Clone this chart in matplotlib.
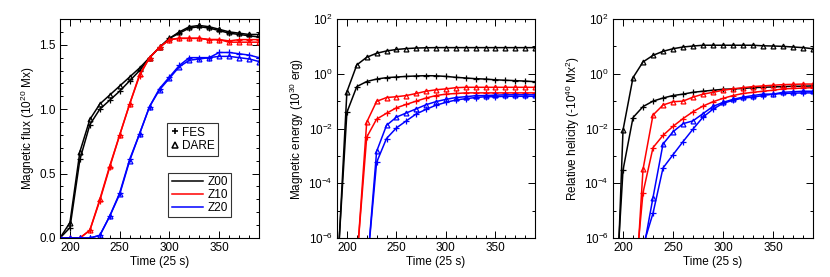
import numpy as np
import matplotlib
matplotlib.use("Agg")
import matplotlib.pyplot as plt
from matplotlib.ticker import MultipleLocator, FixedLocator, FuncFormatter, NullFormatter
from matplotlib.lines import Line2D

plt.rcParams['font.family'] = ['Liberation Sans', 'DejaVu Sans']
plt.rcParams['mathtext.fontset'] = 'custom'
plt.rcParams['mathtext.rm'] = 'Liberation Sans'

t = np.arange(190, 391, 10)

# magnetic flux (1e20 Mx)
flux_z00_fes = [0, 0.08, 0.61, 0.88, 1.00, 1.07, 1.14, 1.22, 1.30, 1.40, 1.48, 1.55, 1.59, 1.63, 1.64,
                1.63, 1.61, 1.59, 1.58, 1.57, 1.56]
flux_z00_dare = [0, 0.12, 0.67, 0.92, 1.04, 1.11, 1.18, 1.25, 1.32, 1.40, 1.48, 1.55, 1.60, 1.64, 1.65,
                 1.64, 1.62, 1.60, 1.59, 1.58, 1.58]
flux_z10_fes = [0, 0, 0, 0.06, 0.29, 0.55, 0.80, 1.04, 1.26, 1.40, 1.48, 1.54, 1.55, 1.55, 1.55,
                1.54, 1.54, 1.53, 1.54, 1.54, 1.54]
flux_z10_dare = [0, 0, 0, 0.06, 0.30, 0.56, 0.80, 1.04, 1.27, 1.40, 1.48, 1.54, 1.55, 1.55, 1.55,
                 1.54, 1.54, 1.52, 1.52, 1.52, 1.52]
flux_z20_fes = [0, 0, 0, 0, 0.02, 0.17, 0.35, 0.61, 0.81, 1.02, 1.16, 1.25, 1.34, 1.40, 1.40,
                1.40, 1.44, 1.44, 1.43, 1.42, 1.40]
flux_z20_dare = [0, 0, 0, 0, 0.02, 0.17, 0.34, 0.60, 0.81, 1.02, 1.15, 1.24, 1.33, 1.38, 1.39,
                 1.40, 1.41, 1.41, 1.40, 1.39, 1.37]

# magnetic energy (1e30 erg)
en_z00_fes = [4e-8, 0.039, 0.34, 0.52, 0.64, 0.72, 0.76, 0.80, 0.83, 0.85, 0.84, 0.80, 0.74, 0.70, 0.66,
              0.64, 0.60, 0.58, 0.56, 0.54, 0.51]
en_z00_dare = [2.5e-8, 0.22, 2.1, 4.0, 5.6, 6.8, 7.7, 8.3, 8.7, 8.9, 9.0, 9.0, 9.0, 9.0, 9.0,
               9.0, 9.0, 9.0, 9.0, 9.0, 9.0]
en_z10_fes = [1e-9, 1e-9, 1.5e-7, 0.0048, 0.022, 0.036, 0.057, 0.076, 0.10, 0.13, 0.16, 0.18, 0.19, 0.20, 0.20,
              0.20, 0.20, 0.20, 0.20, 0.20, 0.20]
en_z10_dare = [1e-9, 1e-9, 1.2e-7, 0.017, 0.098, 0.135, 0.145, 0.16, 0.19, 0.23, 0.26, 0.28, 0.31, 0.32, 0.32,
               0.32, 0.32, 0.32, 0.32, 0.32, 0.32]
en_z20_fes = [1e-9, 1e-9, 1e-9, 6e-8, 5.8e-4, 0.0043, 0.0105, 0.019, 0.034, 0.05, 0.071, 0.09, 0.11, 0.123, 0.135,
              0.145, 0.145, 0.15, 0.15, 0.15, 0.15]
en_z20_dare = [1e-9, 1e-9, 1e-9, 5e-8, 1.45e-3, 0.013, 0.026, 0.037, 0.052, 0.074, 0.096, 0.116, 0.135, 0.145, 0.158,
               0.16, 0.165, 0.17, 0.17, 0.17, 0.17]

# relative helicity (-1e40 Mx^2)
hel_z00_fes = [2e-10, 3e-4, 0.025, 0.063, 0.10, 0.13, 0.16, 0.18, 0.21, 0.23, 0.25, 0.27, 0.28, 0.29, 0.31,
               0.32, 0.33, 0.34, 0.35, 0.35, 0.36]
hel_z00_dare = [1e-12, 8.7e-3, 0.72, 2.7, 4.7, 6.6, 8.2, 9.5, 10.3, 11, 11, 11, 11, 11, 11,
                10.5, 10.3, 10.0, 9.5, 9.0, 8.2]
hel_z10_fes = [1e-12, 1e-12, 5e-9, 4.5e-5, 2e-3, 5.6e-3, 0.012, 0.023, 0.041, 0.066, 0.095, 0.126, 0.16, 0.19, 0.21,
               0.23, 0.25, 0.28, 0.29, 0.30, 0.31]
hel_z10_dare = [1e-12, 1e-12, 3e-10, 3.2e-4, 0.031, 0.072, 0.095, 0.10, 0.14, 0.18, 0.21, 0.25, 0.28, 0.31, 0.34,
                0.36, 0.38, 0.40, 0.41, 0.42, 0.42]
hel_z20_fes = [1e-12, 1e-12, 1e-12, 5e-7, 8e-6, 3.6e-4, 1.1e-3, 3.3e-3, 9.5e-3, 0.026, 0.051, 0.083, 0.107, 0.13, 0.14,
               0.16, 0.18, 0.19, 0.195, 0.20, 0.20]
hel_z20_dare = [1e-12, 1e-12, 1e-12, 3e-7, 3e-5, 2.7e-3, 7.6e-3, 0.015, 0.019, 0.035, 0.064, 0.09, 0.116, 0.14, 0.16,
                0.18, 0.18, 0.21, 0.22, 0.23, 0.23]

runs = ['Z00', 'Z10', 'Z20']
colors = ['black', 'red', 'blue']

fig = plt.figure(figsize=(8.3, 2.77), dpi=100)
W, H = 830, 277
boxes = [(60, 19, 259, 238), (337, 19, 535, 238), (613, 19, 813, 238)]
axes = [fig.add_axes([l / W, 1 - b / H, (r - l) / W, (b - tp) / H]) for (l, tp, r, b) in boxes]

panels = [
    ([flux_z00_fes, flux_z10_fes, flux_z20_fes], [flux_z00_dare, flux_z10_dare, flux_z20_dare],
     'Magnetic flux (10$^{20}$ Mx)'),
    ([en_z00_fes, en_z10_fes, en_z20_fes], [en_z00_dare, en_z10_dare, en_z20_dare],
     'Magnetic energy (10$^{30}$ erg)'),
    ([hel_z00_fes, hel_z10_fes, hel_z20_fes], [hel_z00_dare, hel_z10_dare, hel_z20_dare],
     'Relative helicity (-10$^{40}$ Mx$^2$)'),
]


def logfmt(v, pos):
    e = int(round(np.log10(v)))
    return '10$^{%d}$' % e


for i, (ax, (fes, dare, ylab)) in enumerate(zip(axes, panels)):
    for c, yf, yd in zip(colors, fes, dare):
        ax.plot(t, yf, color=c, lw=1.1, marker='+', ms=4, mew=0.9)
        ax.plot(t, yd, color=c, lw=1.1, marker='^', ms=3.5, mfc='none', mew=0.9)
    ax.set_xlim(190, 390)
    ax.xaxis.set_major_locator(MultipleLocator(50))
    ax.xaxis.set_minor_locator(MultipleLocator(10))
    if i == 0:
        ax.set_ylim(0, 1.7)
        ax.yaxis.set_major_locator(MultipleLocator(0.5))
        ax.yaxis.set_minor_locator(MultipleLocator(0.1))
        ax.yaxis.set_major_formatter(FuncFormatter(lambda v, p: '%.1f' % v))
    else:
        ax.set_yscale('log')
        ax.set_ylim(1e-6, 1e2)
        ax.yaxis.set_major_locator(FixedLocator([1e-6, 1e-4, 1e-2, 1e0, 1e2]))
        ax.yaxis.set_minor_locator(FixedLocator([1e-5, 1e-3, 1e-1, 1e1]))
        ax.yaxis.set_major_formatter(FuncFormatter(logfmt))
        ax.yaxis.set_minor_formatter(NullFormatter())
    ax.tick_params(which='both', direction='in', top=True, right=True, labelsize=8.5, pad=3)
    ax.tick_params(which='major', length=5, width=0.7)
    ax.tick_params(which='minor', length=2.5, width=0.7)
    for s in ax.spines.values():
        s.set_linewidth(0.8)
    ax.set_xlabel('Time (25 s)', fontsize=8.5, labelpad=1)
    ax.set_ylabel(ylab, fontsize=8.5, labelpad=2)

ax = axes[0]
mark_handles = [Line2D([], [], color='black', ls='none', marker='+', ms=5, mew=1.2),
                Line2D([], [], color='black', ls='none', marker='^', ms=4.5, mfc='none', mew=1.1)]
leg1 = ax.legend(mark_handles, ['FES', 'DARE'], loc='upper left', bbox_to_anchor=(0.54, 0.525),
                 fontsize=8.5, frameon=True, fancybox=False, edgecolor='black', handlelength=0.6,
                 handletextpad=0.3, borderpad=0.3, labelspacing=0.15, borderaxespad=0)
leg1.get_frame().set_linewidth(0.8)
ax.add_artist(leg1)
line_handles = [Line2D([], [], color=c, lw=1.1) for c in colors]
leg2 = ax.legend(line_handles, runs, loc='upper left', bbox_to_anchor=(0.545, 0.297),
                 fontsize=8.5, frameon=True, fancybox=False, edgecolor='black', handlelength=2.6,
                 handletextpad=0.4, borderpad=0.3, labelspacing=0.05, borderaxespad=0)
leg2.get_frame().set_linewidth(0.8)

fig.savefig('out.png', dpi=100)
